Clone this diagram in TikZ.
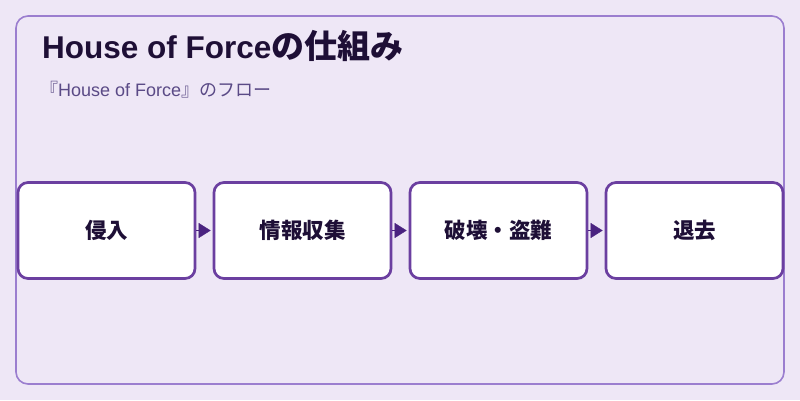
\documentclass[tikz,border=0pt]{standalone}
\usepackage{fontspec}
\setmainfont{Noto Sans CJK JP}
\newfontfamily\latinfont{Liberation Sans}
\usepackage{tikz}
\usetikzlibrary{arrows.meta}

\definecolor{bgpurple}{HTML}{EEE7F6}
\definecolor{framepurple}{HTML}{9B7ECF}
\definecolor{boxpurple}{HTML}{6B3FA0}
\definecolor{arrowpurple}{HTML}{4A2380}
\definecolor{inkdark}{HTML}{1E0F36}
\definecolor{subgrey}{HTML}{5A4A86}

\begin{document}
\begin{tikzpicture}[x=1pt, y=-1pt, >={Triangle[length=12pt, width=15pt]},
  stage/.style={
  % The shape:
  rectangle,
  % The size:
  minimum width=177pt, minimum height=96pt,
  % The border
  line width=2.7pt, draw=boxpurple, fill=white,
      rounded corners=10pt,
      font=\fontsize{21.5}{26}\selectfont\bfseries, text=inkdark,
      align=center},
  flow/.style={draw=arrowpurple, fill=arrowpurple, line width=0.4pt, ->, shorten >=2pt}]
  \fill [bgpurple] (0,0) rectangle (800,400);
  \draw [framepurple, line width=1.6pt, rounded corners=12pt] (16,16) rectangle (784,384);

  \node (title) [anchor=base west, text=inkdark, font=\fontsize{33}{38}\selectfont\bfseries, inner sep=0pt] at (42,58.5) {{\latinfont\fontsize{31.5}{36}\selectfont\bfseries House of Force}の仕組み};
  \node (subtitle) [anchor=base west, text=subgrey, font=\fontsize{18}{22}\selectfont, inner sep=0pt] at (40,96) {『{\latinfont House of Force}』のフロー};

  \node (invade) [stage] at (106.5,230.5) {侵入};
  \node (gather) [stage] at (302.5,230.5) {情報収集};
  \node (destroy) [stage] at (498.5,230.5) {破壊・盗難};
  \node (retreat) [stage] at (694.5,230.5) {退去};

  \draw [flow] (invade.east) -- (gather.west);
  \draw [flow] (gather.east) -- (destroy.west);
  \draw [flow] (destroy.east) -- (retreat.west);

  \end{tikzpicture}
\end{document}
